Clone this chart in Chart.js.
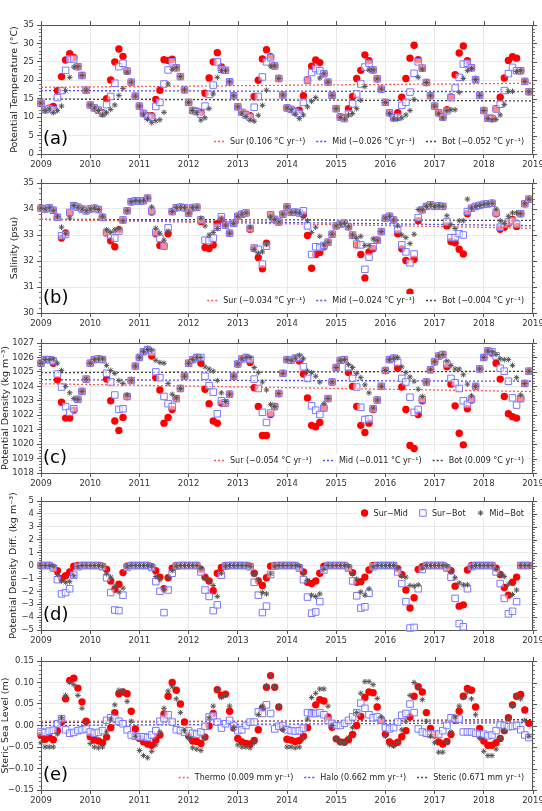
<!DOCTYPE html>
<html><head><meta charset="utf-8">
<script src="https://cdn.jsdelivr.net/npm/chart.js@4.4.1/dist/chart.umd.min.js"></script>
<style>
html,body{margin:0;padding:0;background:#fff;}
#wrap{position:relative;width:542px;height:811px;overflow:hidden;background:#fff;}
canvas{position:absolute;left:0;}
</style></head><body><div id="wrap">
<canvas id="pa"></canvas><canvas id="pb"></canvas><canvas id="pc"></canvas><canvas id="pd"></canvas><canvas id="pe"></canvas>
</div>
<script>
// ---------- tick labels ----------
const yearTicks = [2009,2010,2011,2012,2013,2014,2015,2016,2017,2018,2019];
const tempTicks = [0,5,10,15,20,25,30,35];
const salTicks  = [30,31,32,33,34,35];
const denTicks  = [1018,1019,1020,1021,1022,1023,1024,1025,1026,1027];
const diffTicks = [-5,-4,-3,-2,-1,0,1,2,3,4,5];
const sslTicks  = [-0.15,-0.10,-0.05,0,0.05,0.10,0.15];
const trendYears = [2009, 2019];

// ---------- (a) potential temperature, monthly 2009-01 .. 2018-12 ----------
const tempSur = [13.8,12.0,12.4,12.9,17.2,21.0,25.5,27.2,26.2,23.7,21.3,17.3,
 13.3,12.5,11.9,11.2,15.0,20.1,25.0,28.5,26.5,22.5,19.5,15.7,
 13.0,11.0,10.4,10.4,14.8,17.3,25.6,25.4,25.7,23.4,21.0,17.4,
 14.0,11.8,11.6,11.3,16.5,20.6,25.0,27.5,23.6,22.7,19.6,15.8,
 12.8,11.3,10.8,10.4,15.6,20.0,25.8,28.3,26.4,23.9,20.5,16.0,
 12.5,12.1,11.6,11.9,15.8,20.1,23.8,25.5,24.8,21.8,19.5,15.9,
 12.3,10.1,9.8,12.3,15.6,20.5,22.7,26.9,25.3,22.8,20.4,17.6,
 14.0,11.2,9.9,11.2,15.4,20.5,26.0,29.5,25.6,23.3,19.4,15.8,
 13.0,11.2,10.0,12.0,15.5,21.5,27.4,29.3,25.3,23.4,20.2,15.9,
 11.8,9.7,9.7,12.3,15.4,20.6,25.4,26.4,26.0,22.6,19.7,16.9];
const tempMid = [13.8,12.0,12.3,12.0,15.3,17.2,22.7,25.8,25.8,23.7,21.3,17.3,
 13.3,12.5,11.9,11.0,13.4,15.6,19.2,23.7,24.6,22.5,19.5,15.7,
 13.0,11.0,10.2,10.0,12.9,14.0,19.0,22.8,25.0,23.4,21.0,17.4,
 14.0,11.8,11.5,10.8,13.0,16.2,18.7,25.0,23.0,22.7,19.6,15.8,
 12.8,11.3,10.6,10.0,12.7,15.6,20.9,25.0,26.1,23.9,20.5,16.0,
 12.5,12.1,11.4,11.0,14.0,20.0,22.1,23.2,22.6,21.8,19.5,15.9,
 12.3,10.0,9.6,11.0,13.6,16.3,19.0,23.6,24.6,22.8,20.4,17.6,
 14.0,11.2,9.8,10.0,13.2,14.0,16.8,21.9,25.0,23.3,19.4,15.8,
 13.0,11.2,10.0,11.7,15.3,17.9,20.8,24.4,24.6,23.4,20.2,15.9,
 11.8,9.7,9.6,12.2,13.5,17.2,21.8,23.5,22.6,22.6,19.7,16.9];
const tempBot = [13.8,11.8,12.2,11.2,11.8,13.0,17.2,20.8,23.6,23.7,21.3,17.3,
 13.3,12.5,11.8,10.6,11.2,12.1,13.3,15.9,17.8,22.2,19.5,15.7,
 13.0,10.8,9.4,8.5,9.0,9.3,11.3,19.0,23.0,23.4,21.0,17.4,
 14.0,11.8,11.2,9.2,9.8,12.3,16.3,20.8,22.6,22.7,19.6,15.8,
 12.8,11.1,10.2,9.2,8.9,10.5,13.2,17.3,23.8,23.9,20.5,16.0,
 12.5,12.0,10.8,9.6,10.6,12.8,14.3,15.3,20.6,21.8,19.5,15.9,
 12.3,9.9,9.5,10.6,11.0,12.3,14.6,18.3,22.8,22.8,20.4,17.6,
 14.0,11.0,9.5,9.5,9.8,10.6,11.8,14.8,20.8,23.0,19.4,15.8,
 13.0,11.0,9.8,11.8,12.0,12.0,16.7,20.5,22.6,23.2,20.2,15.9,
 11.8,9.6,9.3,9.4,10.6,13.4,17.0,17.0,22.4,22.6,19.7,16.9];
const tempTrendSur = [18.1, 19.2];
const tempTrendMid = [17.2, 16.9];
const tempTrendBot = [14.9, 14.4];

// ---------- (b) salinity ----------
const salSur = [34.03,34.00,34.05,33.95,33.68,32.88,33.08,33.85,34.13,34.07,34.00,33.93,
 34.00,34.03,33.98,33.68,33.08,32.78,32.55,33.20,33.58,33.93,34.28,34.32,
 34.30,34.32,34.42,33.88,33.05,32.60,32.58,33.05,33.90,34.05,34.07,34.05,
 33.84,34.05,34.07,33.52,32.52,32.48,32.62,33.43,33.62,33.38,33.07,33.45,
 33.72,33.80,33.85,33.22,32.48,32.13,31.70,32.68,33.78,33.60,33.50,33.80,
 34.08,33.87,33.88,33.85,33.78,32.98,31.72,32.25,32.33,32.55,32.72,33.03,
 33.35,33.42,33.45,33.32,32.98,32.62,32.25,31.35,32.35,32.48,32.80,33.13,
 33.65,33.72,33.58,33.05,32.47,32.02,30.80,32.07,33.55,33.97,34.10,34.16,
 34.10,34.12,34.10,33.35,32.75,32.70,32.45,32.27,33.82,34.03,34.10,34.14,
 34.18,34.20,34.22,33.82,33.22,33.30,33.45,33.60,33.33,33.82,34.20,34.38];
const salMid = [34.03,34.00,34.05,33.95,33.68,32.97,33.02,33.87,34.13,34.07,34.00,33.93,
 34.00,34.03,33.98,33.68,33.10,33.00,32.88,33.15,33.58,33.93,34.28,34.32,
 34.30,34.32,34.42,33.92,33.10,32.87,32.57,33.28,33.90,34.05,34.07,34.05,
 33.84,34.05,34.07,33.58,32.80,32.78,32.88,33.30,33.70,33.38,33.07,33.45,
 33.72,33.80,33.85,33.25,32.50,32.45,31.88,32.57,33.78,33.60,33.50,33.80,
 34.08,33.87,33.88,33.85,33.93,33.35,32.25,32.55,32.52,32.60,32.72,33.03,
 33.35,33.42,33.45,33.32,33.00,32.65,32.62,31.68,32.15,32.55,32.80,33.13,
 33.65,33.72,33.58,33.20,32.62,32.35,31.93,32.27,33.67,33.97,34.10,34.16,
 34.10,34.12,34.10,33.50,32.90,32.90,33.05,33.00,33.90,34.03,34.10,34.14,
 34.18,34.20,34.22,33.85,33.30,33.42,33.50,33.55,33.42,33.82,34.20,34.38];
const salBot = [34.03,34.00,34.05,33.95,33.70,33.30,33.05,33.65,34.13,34.07,34.00,33.93,
 34.00,34.03,33.98,33.70,33.20,33.10,33.20,33.25,33.55,33.93,34.28,34.32,
 34.30,34.32,34.42,34.08,33.26,33.07,32.80,33.15,33.90,34.05,34.07,34.05,
 33.84,34.05,34.07,33.65,33.35,33.00,33.10,33.25,33.62,33.38,33.07,33.45,
 33.72,33.80,33.85,33.30,32.45,32.30,32.35,32.65,33.70,33.60,33.50,33.80,
 34.08,33.87,33.88,33.85,33.70,33.55,33.10,33.30,32.95,32.62,32.72,33.03,
 33.35,33.42,33.45,33.32,33.00,32.88,32.95,32.60,32.60,32.85,32.80,33.13,
 33.65,33.72,33.58,33.35,33.00,32.90,32.67,33.03,33.98,33.97,34.10,34.16,
 34.10,34.12,34.10,33.74,33.40,33.25,33.55,33.55,34.38,34.03,34.10,34.14,
 34.18,34.20,34.22,34.00,33.55,33.45,33.72,33.85,33.85,33.82,34.20,34.38];
const salTrendSur = [33.60, 33.26];
const salTrendMid = [33.60, 33.36];
const salTrendBot = [33.60, 33.56];

// ---------- (c) potential density ----------
const denSur = [1025.6,1025.85,1025.85,1025.6,1024.45,1022.9,1021.8,1021.8,1022.35,1023.1,1023.65,1024.5,
 1025.6,1025.85,1025.9,1025.85,1024.5,1023.0,1021.6,1020.95,1021.85,1023.3,1024.4,1025.4,
 1026.0,1026.4,1026.55,1026.1,1024.6,1023.75,1021.45,1021.85,1022.4,1023.15,1023.85,1024.7,
 1025.6,1025.85,1026.0,1025.6,1023.8,1022.8,1021.6,1021.45,1022.85,1022.85,1023.45,1024.7,
 1025.55,1025.9,1026.0,1025.65,1023.9,1022.6,1020.6,1020.6,1022.05,1022.6,1023.5,1024.9,
 1025.85,1025.8,1025.95,1025.75,1024.85,1023.2,1021.3,1021.2,1021.5,1022.5,1023.15,1024.3,
 1025.3,1025.8,1025.85,1024.95,1024.0,1022.6,1021.3,1020.8,1021.45,1022.4,1023.05,1024.0,
 1025.1,1025.85,1025.95,1025.25,1023.95,1022.4,1019.9,1019.7,1022.05,1023.0,1024.3,1025.15,
 1025.7,1026.1,1026.2,1025.35,1024.15,1022.65,1020.75,1019.95,1022.45,1023.05,1024.0,1025.2,
 1026.0,1026.45,1026.3,1025.6,1024.5,1023.3,1022.1,1021.9,1021.8,1023.15,1024.2,1025.05];
const denMid = [1025.6,1025.85,1025.85,1025.75,1024.85,1023.95,1022.6,1022.2,1022.45,1023.1,1023.65,1024.5,
 1025.6,1025.85,1025.9,1025.85,1024.9,1024.3,1023.4,1022.4,1022.45,1023.3,1024.4,1025.4,
 1026.0,1026.4,1026.55,1026.35,1025.0,1024.6,1023.3,1022.8,1022.6,1023.15,1023.85,1024.7,
 1025.6,1025.85,1026.0,1026.0,1024.7,1024.05,1023.6,1022.1,1023.0,1022.85,1023.45,1024.7,
 1025.55,1025.9,1026.0,1025.85,1024.5,1023.85,1022.2,1021.5,1022.15,1022.6,1023.5,1024.9,
 1025.85,1025.8,1025.95,1026.0,1025.35,1024.55,1022.65,1022.35,1022.05,1022.5,1023.15,1024.3,
 1025.3,1025.8,1025.85,1025.3,1024.55,1023.95,1022.55,1021.7,1021.75,1022.45,1023.05,1024.0,
 1025.1,1025.85,1025.95,1025.65,1024.55,1024.3,1023.25,1022.2,1022.4,1023.1,1024.3,1025.15,
 1025.7,1026.1,1026.2,1025.55,1024.55,1024.25,1023.85,1023.0,1022.75,1023.1,1024.0,1025.2,
 1026.0,1026.45,1026.4,1026.1,1025.25,1025.05,1024.35,1023.2,1022.7,1023.15,1024.2,1025.05];
const denBot = [1025.6,1025.85,1025.85,1025.9,1025.6,1025.1,1024.0,1023.55,1023.15,1023.1,1023.65,1024.5,
 1025.6,1025.85,1025.9,1025.9,1025.45,1025.1,1024.9,1024.4,1024.2,1023.4,1024.4,1025.4,
 1026.0,1026.4,1026.55,1026.5,1025.8,1025.65,1025.6,1024.2,1023.45,1023.2,1023.85,1024.7,
 1025.6,1025.85,1026.0,1026.0,1025.35,1025.2,1025.05,1024.4,1023.55,1022.95,1023.45,1024.7,
 1025.55,1025.9,1026.0,1026.0,1025.3,1024.95,1024.3,1023.75,1022.75,1022.6,1023.5,1024.9,
 1025.85,1025.8,1025.95,1026.15,1025.9,1025.05,1024.95,1024.7,1024.3,1022.8,1023.15,1024.3,
 1025.3,1025.8,1025.85,1025.5,1025.3,1024.9,1024.6,1024.1,1023.55,1022.5,1023.05,1024.0,
 1025.1,1025.85,1025.95,1026.0,1025.35,1024.95,1024.65,1024.35,1023.8,1023.3,1024.3,1025.15,
 1025.7,1026.1,1026.2,1025.75,1025.45,1025.2,1025.2,1024.8,1024.15,1023.35,1024.0,1025.2,
 1026.0,1026.45,1026.4,1026.2,1025.9,1025.85,1025.85,1025.45,1024.6,1023.4,1024.2,1025.05];
const denTrendSur = [1024.18, 1023.64];
const denTrendMid = [1024.46, 1024.35];
const denTrendBot = [1024.95, 1025.04];

// ---------- (d) potential density difference ----------
const diffSurMid = [0,0,0,-0.15,-0.4,-1.0,-0.8,-0.5,-0.05,0,0,0,
 0,0,0,-0.05,-0.3,-1.2,-1.85,-1.45,-0.55,-0.05,0,0,
 0,0,0,-0.1,-0.4,-0.9,-1.8,-0.95,-0.2,0,0,0,
 0,0,0,-0.3,-0.9,-1.2,-1.95,-0.6,-0.15,0,0,0,
 0,0,0,-0.05,-0.6,-1.2,-1.55,-0.95,-0.05,0,0,0,
 0,0,0,-0.15,-0.5,-1.3,-1.4,-1.2,-0.6,-0.05,0,0,
 0,0,0,-0.15,-0.55,-1.3,-1.25,-0.9,-0.35,0,0,0,
 0,0,0,-0.25,-0.7,-1.9,-3.3,-2.5,-0.3,-0.1,0,0,
 0,0,0,-0.15,-0.4,-1.6,-3.15,-3.05,-0.35,0,0,0,
 0,0,0,-0.2,-0.7,-1.7,-2.3,-1.3,-0.9,0,0,0];
const diffSurBot = [0,0,0,-0.2,-1.1,-2.2,-2.1,-1.8,-0.75,-0.1,0,0,
 0,0,0,-0.1,-0.95,-2.1,-3.45,-3.5,-2.3,-0.15,0,0,
 0,0,0,-0.15,-1.25,-2.0,-3.65,-1.9,-0.6,-0.05,0,0,
 0,0,0,-0.5,-1.9,-2.4,-3.5,-3.05,-0.75,-0.05,0,0,
 0,0,0,-0.1,-1.3,-2.3,-3.65,-3.15,-0.7,-0.05,0,0,
 0,0,0,-0.2,-1.1,-2.45,-3.7,-3.6,-2.8,-0.35,0,0,
 0,0,0,-0.2,-1.2,-2.35,-3.3,-3.2,-2.15,-0.1,0,0,
 0,0,0,-0.5,-1.4,-2.8,-4.85,-4.8,-1.8,-0.3,0,0,
 0,0,0,-0.2,-0.9,-2.55,-4.5,-4.75,-1.8,-0.1,0,0,
 0,0,0,-0.5,-1.4,-2.55,-3.75,-3.55,-2.8,0,0,0];
const diffMidBot = [0,0,0,-0.05,-0.7,-1.2,-1.3,-1.25,-0.8,-0.1,0,0,
 0,0,0,-0.05,-0.65,-0.9,-1.6,-2.05,-1.75,-0.1,0,0,
 0,0,0,-0.05,-0.85,-1.1,-1.85,-0.95,-0.4,-0.05,0,0,
 0,0,0,-0.2,-1.0,-1.2,-1.55,-2.4,-0.6,-0.05,0,0,
 0,0,0,-0.05,-0.7,-1.1,-2.1,-2.2,-0.65,-0.05,0,0,
 0,0,0,-0.05,-0.6,-1.15,-2.3,-2.4,-2.2,-0.3,0,0,
 0,0,0,-0.05,-0.65,-1.05,-2.05,-2.3,-1.8,-0.1,0,0,
 0,0,0,-0.2,-0.8,-0.9,-1.55,-1.6,-1.5,-0.2,0,0,
 0,0,0,-0.05,-0.5,-0.95,-1.35,-1.5,-1.5,-0.1,0,0,
 0,0,0,-0.3,-0.7,-0.85,-1.45,-2.25,-1.9,0,0,0];

// ---------- (e) steric sea level ----------
const sslThermo = [-0.023,-0.032,-0.028,-0.033,-0.012,0.008,0.062,0.105,0.110,0.087,0.055,0.010,
 -0.026,-0.034,-0.036,-0.040,-0.027,-0.005,0.030,0.074,0.078,0.074,0.033,-0.008,
 -0.030,-0.038,-0.043,-0.046,-0.034,-0.022,0.027,0.068,0.100,0.082,0.050,0.008,
 -0.024,-0.036,-0.037,-0.042,-0.027,-0.001,0.028,0.083,0.070,0.073,0.033,-0.006,
 -0.030,-0.038,-0.042,-0.043,-0.035,-0.010,0.040,0.089,0.116,0.089,0.043,-0.006,
 -0.032,-0.034,-0.037,-0.035,-0.025,-0.005,0.030,0.048,0.060,0.057,0.020,-0.004,
 -0.031,-0.038,-0.039,-0.033,-0.021,0.000,0.021,0.065,0.078,0.076,0.043,0.012,
 -0.020,-0.038,-0.043,-0.039,-0.026,-0.012,0.020,0.068,0.090,0.078,0.030,-0.007,
 -0.022,-0.038,-0.043,-0.037,-0.021,0.012,0.033,0.068,0.086,0.082,0.043,-0.007,
 -0.036,-0.046,-0.046,-0.040,-0.030,-0.012,0.018,0.048,0.068,0.072,0.036,0.005];
const sslHalo = [-0.015,-0.016,-0.013,-0.011,0.004,0.016,-0.010,-0.018,-0.016,-0.012,-0.010,-0.008,
 -0.015,-0.018,-0.016,-0.012,0.012,0.018,0.016,0.010,0.004,-0.010,-0.022,-0.025,
 -0.026,-0.026,-0.028,-0.022,-0.012,0.010,0.016,0.025,0.008,-0.010,-0.012,-0.016,
 -0.012,-0.018,-0.020,-0.015,-0.002,0.020,0.022,0.008,-0.006,0.004,0.012,0.000,
 -0.012,-0.010,0.000,0.008,0.008,0.032,0.028,0.048,0.028,-0.008,-0.002,0.000,
 -0.010,-0.012,-0.013,-0.012,-0.006,0.030,0.028,0.028,0.030,0.025,0.012,0.005,
 0.000,0.000,0.005,0.012,0.020,0.030,0.052,0.040,0.025,0.018,0.020,0.012,
 -0.005,-0.008,-0.005,0.008,0.024,0.028,0.050,0.030,-0.008,-0.015,-0.018,-0.020,
 -0.020,-0.020,-0.012,0.000,0.018,0.015,0.015,-0.015,-0.015,-0.015,-0.018,-0.020,
 -0.020,-0.024,-0.022,-0.012,0.002,0.000,-0.003,-0.002,0.000,-0.010,-0.022,-0.028];
const sslSteric = [-0.040,-0.050,-0.050,-0.050,-0.020,0.018,0.070,0.100,0.095,0.070,0.040,0.005,
 -0.042,-0.050,-0.052,-0.050,-0.015,0.015,0.048,0.082,0.080,0.056,0.010,-0.025,
 -0.058,-0.070,-0.075,-0.060,-0.045,-0.015,0.040,0.080,0.090,0.062,0.030,-0.012,
 -0.030,-0.052,-0.055,-0.058,-0.030,0.018,0.045,0.083,0.065,0.070,0.045,-0.005,
 -0.045,-0.050,-0.050,-0.052,-0.040,0.025,0.045,0.092,0.116,0.090,0.045,-0.010,
 -0.050,-0.050,-0.052,-0.050,-0.030,0.015,0.065,0.075,0.085,0.085,0.045,0.000,
 -0.030,-0.040,-0.040,-0.028,-0.005,0.030,0.075,0.102,0.102,0.095,0.063,0.020,
 -0.025,-0.045,-0.048,-0.040,-0.010,0.010,0.070,0.100,0.088,0.060,0.010,-0.025,
 -0.040,-0.062,-0.062,-0.040,-0.015,0.020,0.045,0.065,0.078,0.062,0.025,-0.030,
 -0.060,-0.070,-0.070,-0.055,-0.030,-0.012,0.015,0.045,0.070,0.062,0.012,-0.025];
const sslTrendThermo = [0.010, 0.010];
const sslTrendHalo   = [0.000, 0.0066];
const sslTrendSteric = [0.007, 0.0137];

// ---------- styles ----------
const FONT = '"DejaVu Sans", "Liberation Sans", sans-serif';
const RED = '#ff0000', BLUE = '#7878ff', GREY = '#555555';
const TR_RED = '#ff5a5a', TR_BLUE = '#4a4aff', TR_BLACK = '#404040';
const MK = {
  sur: {pointStyle:'circle', pointRadius:3.7, pointBackgroundColor:RED, pointBorderColor:RED, pointBorderWidth:0},
  mid: {pointStyle:'rect', pointRadius:4.6, pointBackgroundColor:'rgba(255,255,255,0.55)', pointBorderColor:BLUE, pointBorderWidth:1},
  bot: {pointStyle:'star', pointRadius:2.8, pointBackgroundColor:GREY, pointBorderColor:GREY, pointBorderWidth:1}
};
const monthly = arr => arr.map((v, i) => ({x: 2009 + i / 12, y: v}));
const minus = s => s.replace('-', '\u2212');

const deco = {
  id: 'deco',
  afterDraw(chart, args, o) {
    const {ctx, chartArea: ca, scales: {x, y}} = chart;
    ctx.save();
    ctx.strokeStyle = '#555'; ctx.lineWidth = 1;
    ctx.beginPath();
    ctx.moveTo(ca.left, ca.top + 0.5); ctx.lineTo(ca.right, ca.top + 0.5);
    ctx.moveTo(ca.right - 0.5, ca.top); ctx.lineTo(ca.right - 0.5, ca.bottom);
    x.ticks.forEach(t => { const px = Math.round(x.getPixelForValue(t.value)) + 0.5; ctx.moveTo(px, ca.top); ctx.lineTo(px, ca.top - 4); });
    const yt = y.ticks.map(t => t.value);
    yt.forEach(v => { const py = Math.round(y.getPixelForValue(v)) + 0.5; ctx.moveTo(ca.right, py); ctx.lineTo(ca.right + 4, py); });
    ctx.stroke();
    ctx.beginPath(); ctx.lineWidth = 0.8;
    for (let i = 0; i < yt.length - 1; i++) {
      const st = (yt[i + 1] - yt[i]) / 5;
      for (let k = 1; k < 5; k++) {
        const py = Math.round(y.getPixelForValue(yt[i] + k * st)) + 0.5;
        ctx.moveTo(ca.left, py); ctx.lineTo(ca.left - 2, py);
        ctx.moveTo(ca.right, py); ctx.lineTo(ca.right + 2, py);
      }
    }
    ctx.stroke();
    // panel tag
    ctx.fillStyle = '#000'; ctx.font = '18px ' + FONT; ctx.textBaseline = 'alphabetic'; ctx.textAlign = 'left';
    ctx.fillText(o.tag, ca.left + 2, ca.bottom - 10);
    // legend
    const items = o.items(chart);
    ctx.font = '8px ' + FONT;
    const G1 = 5, G2 = 11;
    const ws = items.map(it => ctx.measureText(it.text).width);
    let total = 0;
    items.forEach((it, i) => { total += it.S + G1 + ws[i]; });
    total += G2 * (items.length - 1);
    let lx = ca.right - 9 - total;
    const ly = o.top ? ca.top + 12 : ca.bottom - 13;
    ctx.fillStyle = '#fff'; ctx.fillRect(lx - 3, ly - 6, total + 6, 12);
    items.forEach((it, i) => {
      const ds = it.ds;
      if (it.kind === 'line') {
        ctx.save(); ctx.strokeStyle = ds.borderColor; ctx.lineWidth = ds.borderWidth; ctx.setLineDash(ds.borderDash);
        ctx.beginPath(); ctx.moveTo(lx, ly + 0.5); ctx.lineTo(lx + it.S, ly + 0.5); ctx.stroke(); ctx.restore();
      } else {
        ctx.save(); ctx.fillStyle = ds.pointBackgroundColor; ctx.strokeStyle = ds.pointBorderColor; ctx.lineWidth = ds.pointBorderWidth;
        Chart.helpers.drawPoint(ctx, {pointStyle: ds.pointStyle, radius: ds.pointRadius, borderWidth: ds.pointBorderWidth, rotation: 0}, lx + it.S / 2, ly);
        ctx.restore();
      }
      ctx.fillStyle = '#222'; ctx.textBaseline = 'middle'; ctx.textAlign = 'left';
      ctx.fillText(it.text, lx + it.S + G1, ly + 0.5);
      lx += it.S + G1 + ws[i] + G2;
    });
    ctx.restore();
  }
};

function panel(id, cfg) {
  const PT = 14, XB = 22;
  const cv = document.getElementById(id);
  cv.width = 542; cv.height = (cfg.bottom - cfg.top) + PT + XB;
  cv.style.width = '542px'; cv.style.height = cv.height + 'px';
  cv.style.top = (cfg.top - PT) + 'px';
  const datasets = [];
  cfg.points.forEach((p, k) => datasets.push(Object.assign({
    type: 'scatter', label: p.label, data: monthly(p.values), showLine: false, order: 10 - k, clip: false
  }, p.mk)));
  (cfg.trends || []).forEach(t => datasets.push({
    type: 'line', label: t.label, data: trendYears.map((yr, i) => ({x: yr, y: t.values[i]})),
    borderColor: t.color, borderWidth: 1.3, borderDash: [2, 2], pointRadius: 0, fill: false, order: 20
  }));
  const tickFont = {family: FONT, size: 8.5};
  new Chart(cv, {
    data: {datasets},
    options: {
      responsive: false, animation: false, events: [],
      layout: {padding: {top: PT, right: 9, left: 0, bottom: 0}},
      plugins: {legend: {display: false}, tooltip: {enabled: false},
        deco: {tag: cfg.tag, top: cfg.legendTop, items: cfg.legendItems}},
      scales: {
        x: {type: 'linear', min: 2009, max: 2019,
          afterBuildTicks: s => { s.ticks = yearTicks.map(v => ({value: v})); },
          afterFit: s => { s.height = XB; s.paddingLeft = 0; s.paddingRight = 0; },
          ticks: {callback: v => String(v), font: tickFont, color: '#333', padding: 2, maxRotation: 0, autoSkip: false},
          grid: {color: '#e4e4e4', lineWidth: 0.8, tickColor: '#555', tickLength: 4, tickWidth: 1},
          border: {color: '#555', width: 1}},
        y: {type: 'linear', min: cfg.ticks[0], max: cfg.ticks[cfg.ticks.length - 1],
          afterBuildTicks: s => { s.ticks = cfg.ticks.map(v => ({value: v})); },
          afterFit: s => { s.width = 41; s.paddingTop = 0; s.paddingBottom = 0; },
          ticks: {callback: cfg.fmt, font: tickFont, color: '#333', padding: 3, autoSkip: false},
          title: {display: true, text: cfg.title, font: {family: FONT, size: 9.5}, color: '#222', padding: {top: cfg.titlePad, bottom: 0}},
          grid: {color: '#e4e4e4', lineWidth: 0.8, tickColor: '#555', tickLength: 4, tickWidth: 1},
          border: {color: '#555', width: 1}}
      }
    },
    plugins: [deco]
  });
}

const trendLegend = chart => chart.data.datasets.filter(d => d.type === 'line').map(d => ({kind: 'line', ds: d, text: d.label, S: 11}));
const pointLegend = chart => chart.data.datasets.filter(d => d.type === 'scatter').map(d => ({kind: 'point', ds: d, text: d.label, S: 8}));

panel('pa', {top: 25, bottom: 154, tag: '(a)', ticks: tempTicks, fmt: v => String(v), titlePad: 9,
  title: 'Potential Temperature (\u00B0C)',
  points: [{label: 'Sur', values: tempSur, mk: MK.sur}, {label: 'Mid', values: tempMid, mk: MK.mid}, {label: 'Bot', values: tempBot, mk: MK.bot}],
  trends: [{label: 'Sur (0.106 \u00B0C yr\u207B\u00B9)', values: tempTrendSur, color: TR_RED},
           {label: 'Mid (\u22120.026 \u00B0C yr\u207B\u00B9)', values: tempTrendMid, color: TR_BLUE},
           {label: 'Bot (\u22120.052 \u00B0C yr\u207B\u00B9)', values: tempTrendBot, color: TR_BLACK}],
  legendItems: trendLegend});
panel('pb', {top: 183, bottom: 313, tag: '(b)', ticks: salTicks, fmt: v => String(v), titlePad: 9,
  title: 'Salinity (psu)',
  points: [{label: 'Sur', values: salSur, mk: MK.sur}, {label: 'Mid', values: salMid, mk: MK.mid}, {label: 'Bot', values: salBot, mk: MK.bot}],
  trends: [{label: 'Sur (\u22120.034 \u00B0C yr\u207B\u00B9)', values: salTrendSur, color: TR_RED},
           {label: 'Mid (\u22120.024 \u00B0C yr\u207B\u00B9)', values: salTrendMid, color: TR_BLUE},
           {label: 'Bot (\u22120.004 \u00B0C yr\u207B\u00B9)', values: salTrendBot, color: TR_BLACK}],
  legendItems: trendLegend});
panel('pc', {top: 343, bottom: 473, tag: '(c)', ticks: denTicks, fmt: v => String(v), titlePad: 0,
  title: 'Potential Density (kg m\u207B\u00B3)',
  points: [{label: 'Sur', values: denSur, mk: MK.sur}, {label: 'Mid', values: denMid, mk: MK.mid}, {label: 'Bot', values: denBot, mk: MK.bot}],
  trends: [{label: 'Sur (\u22120.054 \u00B0C yr\u207B\u00B9)', values: denTrendSur, color: TR_RED},
           {label: 'Mid (\u22120.011 \u00B0C yr\u207B\u00B9)', values: denTrendMid, color: TR_BLUE},
           {label: 'Bot (0.009 \u00B0C yr\u207B\u00B9)', values: denTrendBot, color: TR_BLACK}],
  legendItems: trendLegend});
panel('pd', {top: 501, bottom: 630, tag: '(d)', ticks: diffTicks, fmt: v => minus(String(v)), legendTop: true, titlePad: 8,
  title: 'Potential Density Diff. (kg m\u207B\u00B3)',
  points: [{label: 'Sur\u2212Mid', values: diffSurMid, mk: MK.sur}, {label: 'Sur\u2212Bot', values: diffSurBot, mk: MK.mid}, {label: 'Mid\u2212Bot', values: diffMidBot, mk: MK.bot}],
  legendItems: pointLegend});
panel('pe', {top: 661, bottom: 790, tag: '(e)', ticks: sslTicks, fmt: v => minus(Number(v).toFixed(2)), titlePad: 0,
  title: 'Steric Sea Level (m)',
  points: [{label: 'Thermo', values: sslThermo, mk: MK.sur}, {label: 'Halo', values: sslHalo, mk: MK.mid}, {label: 'Steric', values: sslSteric, mk: MK.bot}],
  trends: [{label: 'Thermo (0.009 mm yr\u207B\u00B9)', values: sslTrendThermo, color: TR_RED},
           {label: 'Halo (0.662 mm yr\u207B\u00B9)', values: sslTrendHalo, color: TR_BLUE},
           {label: 'Steric (0.671 mm yr\u207B\u00B9)', values: sslTrendSteric, color: TR_BLACK}],
  legendItems: trendLegend});
</script>
</body></html>
